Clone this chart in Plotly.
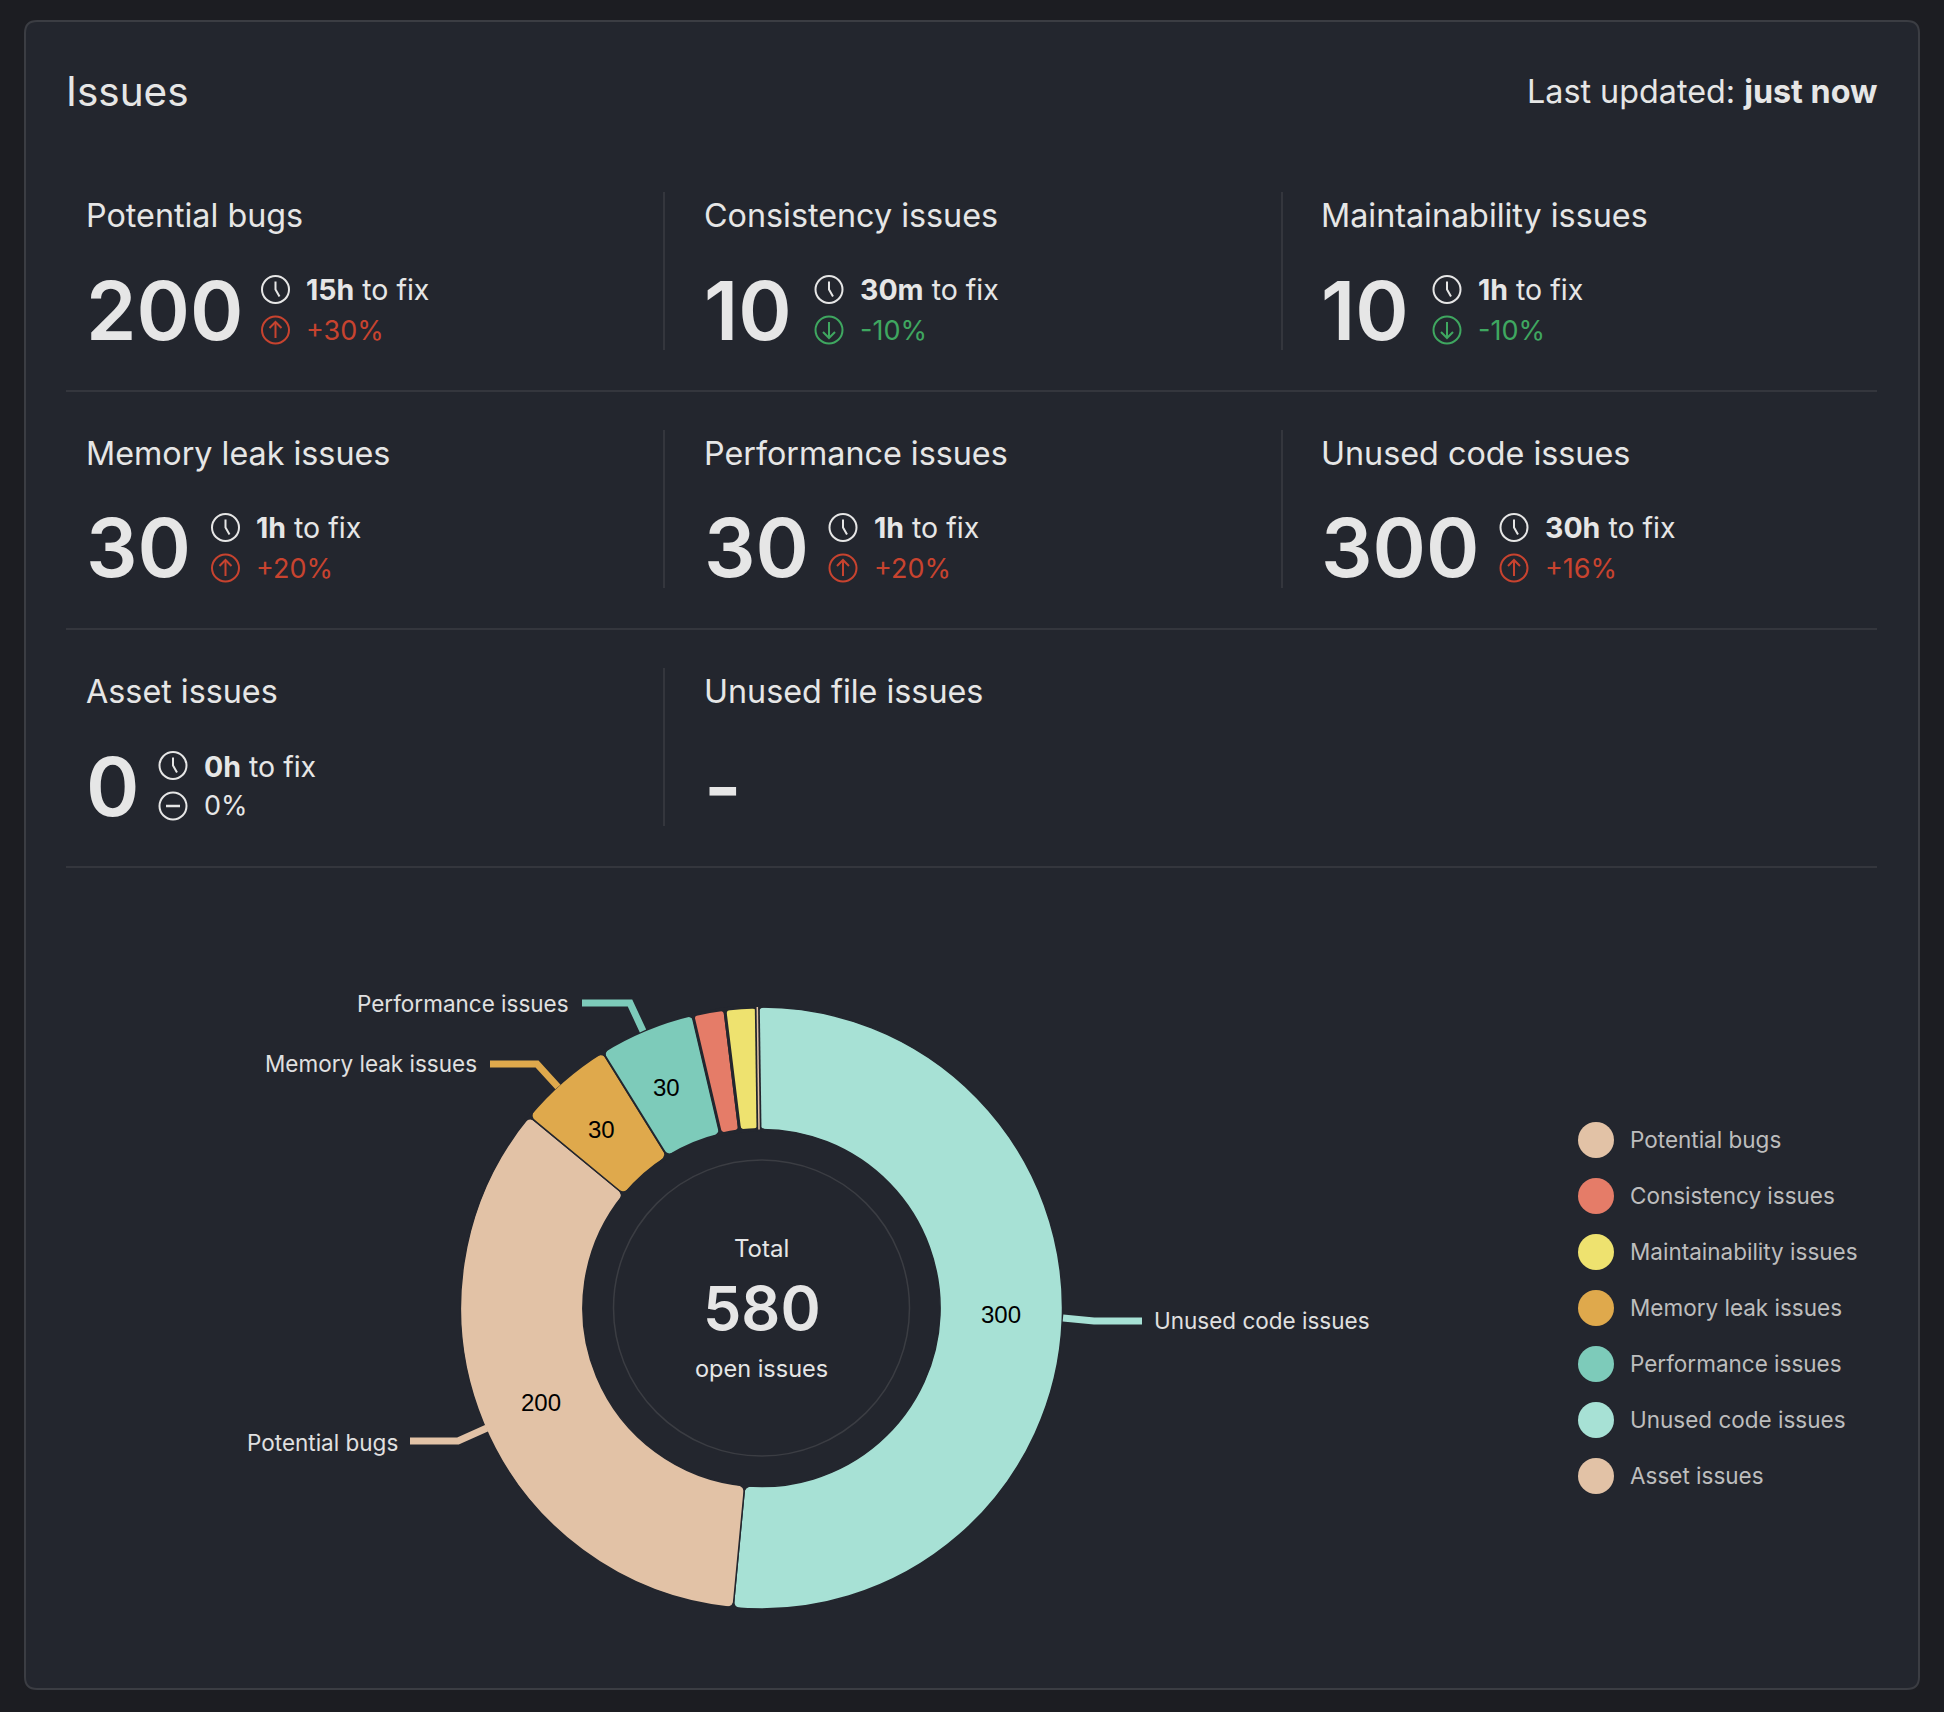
import math
import plotly.graph_objects as go

# ---------- data ----------
SLICE_NAMES = ["Unused code issues", "Potential bugs", "Memory leak issues", "Performance issues",
               "Consistency issues", "Maintainability issues", "Asset issues"]
SLICE_VALUES = [300, 200, 30, 30, 10, 10, 0]
SLICE_LABELS = ["300", "200", "30", "30", "", "", ""]
LEGEND_NAMES = ["Potential bugs", "Consistency issues", "Maintainability issues", "Memory leak issues",
                "Performance issues", "Unused code issues", "Asset issues"]
CARD_TITLES = ["Potential bugs", "Consistency issues", "Maintainability issues",
               "Memory leak issues", "Performance issues", "Unused code issues",
               "Asset issues", "Unused file issues"]
CARD_COUNTS = ["200", "10", "10", "30", "30", "300", "0", "-"]
CARD_FIX = ["15h", "30m", "1h", "1h", "1h", "30h", "0h", None]
CARD_DELTA = ["+30%", "-10%", "-10%", "+20%", "+20%", "+16%", "0%", None]
TOTAL = "580"

# ---------- styling / layout ----------
W, H = 1944, 1712
BG, PANEL, RULE = "#1c1d22", "#23262e", "#3b3d43"
TXT, RED, GREEN = "#e6e6e6", "#c8432f", "#3fa760"
COLORS = {"Potential bugs": "#e2c2a6", "Consistency issues": "#e57c68", "Maintainability issues": "#eee26f",
          "Memory leak issues": "#dfa94c", "Performance issues": "#7dcbba", "Unused code issues": "#a7e1d5",
          "Asset issues": "#e2c2a6"}
SEAM_WIDTHS = [1.5, 1.5, 1.5, 2, 3, 3, 1.5]
FONT = "Inter"
CX, CY, R_OUT, R_IN, R_RING = 761.5, 1308, 301, 178.6, 148
ROTATION = -0.8
LABEL_SHIFT = -0.7
CORNER = 9
COL_X = [84.5, 702.5, 1319.5]
TITLE_Y = [215.5, 453.5, 691.5]
ROW_Y = [216, 454, 692]
ICON_X = [275.5, 829, 1447, 225.5, 843, 1514, 173, None]
X = lambda p: p / W
Y = lambda p: 1 - p / H

shapes, notes = [], []

def text(s, x, y, size, color=TXT, anchor="left", weight=None):
    notes.append(dict(text=s, x=X(x), y=Y(y), xref="paper", yref="paper", xanchor=anchor, yanchor="middle",
                      showarrow=False, borderpad=0,
                      font=dict(family=FONT, size=size, color=color, **({"weight": weight} if weight else {}))))

def path(pts, color, width, fill=None):
    d = "M " + " L ".join(f"{X(a):.6f},{Y(b):.6f}" for a, b in pts)
    shapes.append(dict(type="path", path=d, xref="paper", yref="paper",
                       line=dict(color=color, width=width), fillcolor=fill or "rgba(0,0,0,0)"))

def circle(cx, cy, r, color=None, width=0, fill=None):
    shapes.append(dict(type="circle", xref="paper", yref="paper", x0=X(cx - r), x1=X(cx + r), y0=Y(cy + r), y1=Y(cy - r),
                       line=dict(color=color or "rgba(0,0,0,0)", width=width), fillcolor=fill or "rgba(0,0,0,0)"))

def polar(deg, r):
    t = math.radians(deg)
    return CX + r * math.sin(t), CY - r * math.cos(t)

# panel
a, b, c, d, r = 25, 21, 1919, 1689, 12
panel = (f"M {X(a+r)},{Y(b)} L {X(c-r)},{Y(b)} Q {X(c)},{Y(b)} {X(c)},{Y(b+r)} L {X(c)},{Y(d-r)} "
         f"Q {X(c)},{Y(d)} {X(c-r)},{Y(d)} L {X(a+r)},{Y(d)} Q {X(a)},{Y(d)} {X(a)},{Y(d-r)} "
         f"L {X(a)},{Y(b+r)} Q {X(a)},{Y(b)} {X(a+r)},{Y(b)} Z")
shapes.append(dict(type="path", path=panel, xref="paper", yref="paper", fillcolor=PANEL, line=dict(color=RULE, width=2), layer="below"))

text("Issues", 65, 92, 40.5)
text("Last updated: <b>just now</b>", 1878, 92, 32.3, anchor="right")

# dividers
for y in (391, 629, 867):
    path([(66, y), (1877, y)], RULE, 1.5)
for x, y0, y1 in [(664, 192, 350), (1282, 192, 350), (664, 430, 588), (1282, 430, 588), (664, 668, 826)]:
    path([(x, y0), (x, y1)], RULE, 1.5)

# cards
for i, title in enumerate(CARD_TITLES):
    col, row = i % 3, i // 3
    x, y = COL_X[col], ROW_Y[row]
    text(title, x, TITLE_Y[row], 32.3)
    text(CARD_COUNTS[i], x + 0.5, y + 94.5, 81, weight=600)
    if CARD_FIX[i] is None:
        continue
    ix, y1, y2 = ICON_X[i], y + 73.5, y + 114
    circle(ix, y1, 13.5, TXT, 2)
    path([(ix, y1 - 8), (ix, y1), (ix + 4, y1 + 7)], TXT, 2)
    text(f"<b>{CARD_FIX[i]}</b> to fix", ix + 29.5, y1 + 0.5, 28.5)
    delta = CARD_DELTA[i]
    col_d = RED if delta[0] == "+" else GREEN if delta[0] == "-" else TXT
    circle(ix, y2, 13.5, col_d, 2)
    if delta[0] == "+":
        path([(ix, y2 + 8), (ix, y2 - 8)], col_d, 2)
        path([(ix - 6, y2 - 2), (ix, y2 - 8), (ix + 6, y2 - 2)], col_d, 2)
    elif delta[0] == "-":
        path([(ix, y2 - 8), (ix, y2 + 8)], col_d, 2)
        path([(ix - 6, y2 + 2), (ix, y2 + 8), (ix + 6, y2 + 2)], col_d, 2)
    else:
        path([(ix - 7, y2), (ix + 7, y2)], col_d, 2.5)
    text(delta, ix + 29.5, y2, 27, col_d)

# centre of the donut
circle(CX, CY, R_RING, RULE, 1.5)
text("Total", CX, 1248, 24, anchor="center")
text(TOTAL, CX, 1308, 61, anchor="center", weight=600)
text("open issues", CX, 1368.5, 23.5, anchor="center")

# leader lines + labels
LEADERS = {"Performance issues": ([(643, 1031), (630, 1003), (582, 1003)], 570, 1003.5, "right"),
           "Memory leak issues": ([(558, 1087), (537, 1064), (490, 1064)], 478, 1063.5, "right"),
           "Potential bugs": ([(487, 1428), (458, 1441), (410, 1441)], 398.5, 1442, "right"),
           "Unused code issues": ([(1063, 1318), (1094, 1321), (1142, 1321)], 1152.5, 1320, "left")}
for name, (pts, lx, ly, anc) in LEADERS.items():
    path(pts, COLORS[name], 7)
    text(name, lx, ly, 22.5, "#e0e0e0", anc)

# legend
for i, name in enumerate(LEGEND_NAMES):
    ly = 1140 + 56 * i
    circle(1596, ly, 18, fill=COLORS[name])
    text(name, 1629, ly - 1, 22.5, "#bdbdbd")

# slice geometry follows the values: labels at mid-ring, corners softened at each boundary
total = sum(SLICE_VALUES)
angle = ROTATION
R_MID = (R_IN + R_OUT) / 2
boundaries = [angle]
for v, lab in zip(SLICE_VALUES, SLICE_LABELS):
    sweep = 360 * v / total
    if lab:
        lx, ly = polar(angle + sweep / 2 + LABEL_SHIFT, R_MID)
        notes.append(dict(text=lab, x=X(lx), y=Y(ly), xref="paper", yref="paper", xanchor="center", yanchor="middle",
                          showarrow=False, font=dict(family="Liberation Sans", size=24, color="#000000")))
    angle += sweep
    if v:
        boundaries.append(angle)

def notch(deg, radius, inward):
    """Cover a boundary corner so that both neighbouring slices look rounded."""
    dt = math.degrees(CORNER / radius)
    P = polar(deg, radius)
    A, Cc = polar(deg - dt, radius), polar(deg + dt, radius)
    Bb = polar(deg, radius - CORNER if inward else radius + CORNER)
    Tip1, Tip2 = polar(deg - dt, radius + (2 if inward else -2)), polar(deg + dt, radius + (2 if inward else -2))
    f = lambda q: f"{X(q[0]):.6f},{Y(q[1]):.6f}"
    shapes.append(dict(type="path", xref="paper", yref="paper", fillcolor=PANEL, line=dict(width=0),
                       path=f"M {f(A)} Q {f(P)} {f(Bb)} Q {f(P)} {f(Cc)} L {f(Tip2)} L {f(Tip1)} Z"))

for deg in boundaries[:-1]:
    notch(deg, R_OUT, True)
    notch(deg, R_IN, False)
# the zero-value slice shows as a hairline between the last and first slices
path([polar(ROTATION, R_IN - 1), polar(ROTATION, R_OUT + 1)], PANEL, 5)
path([polar(ROTATION, R_IN), polar(ROTATION, R_OUT)], COLORS["Asset issues"], 1.5)

slice_colors = [COLORS[n] for n in SLICE_NAMES]
fig = go.Figure(go.Pie(
    labels=SLICE_NAMES, values=SLICE_VALUES, textinfo="none",
    hole=R_IN / R_OUT, sort=False, direction="clockwise", rotation=ROTATION,
    marker=dict(colors=slice_colors,
                line=dict(color=[PANEL if v else COLORS[n] for n, v in zip(SLICE_NAMES, SLICE_VALUES)],
                          width=SEAM_WIDTHS)),
    domain=dict(x=[X(CX - R_OUT), X(CX + R_OUT)], y=[Y(CY + R_OUT), Y(CY - R_OUT)]),
    hoverinfo="label+value", showlegend=False))
fig.update_layout(width=W, height=H, margin=dict(l=0, r=0, t=0, b=0), paper_bgcolor=BG, plot_bgcolor=BG,
                  shapes=shapes, annotations=notes, showlegend=False)
fig.write_html("out.html", config=dict(displayModeBar=False),
               post_script="document.body.style.margin='0';document.body.style.overflow='hidden';document.body.style.background='%s';" % BG)
